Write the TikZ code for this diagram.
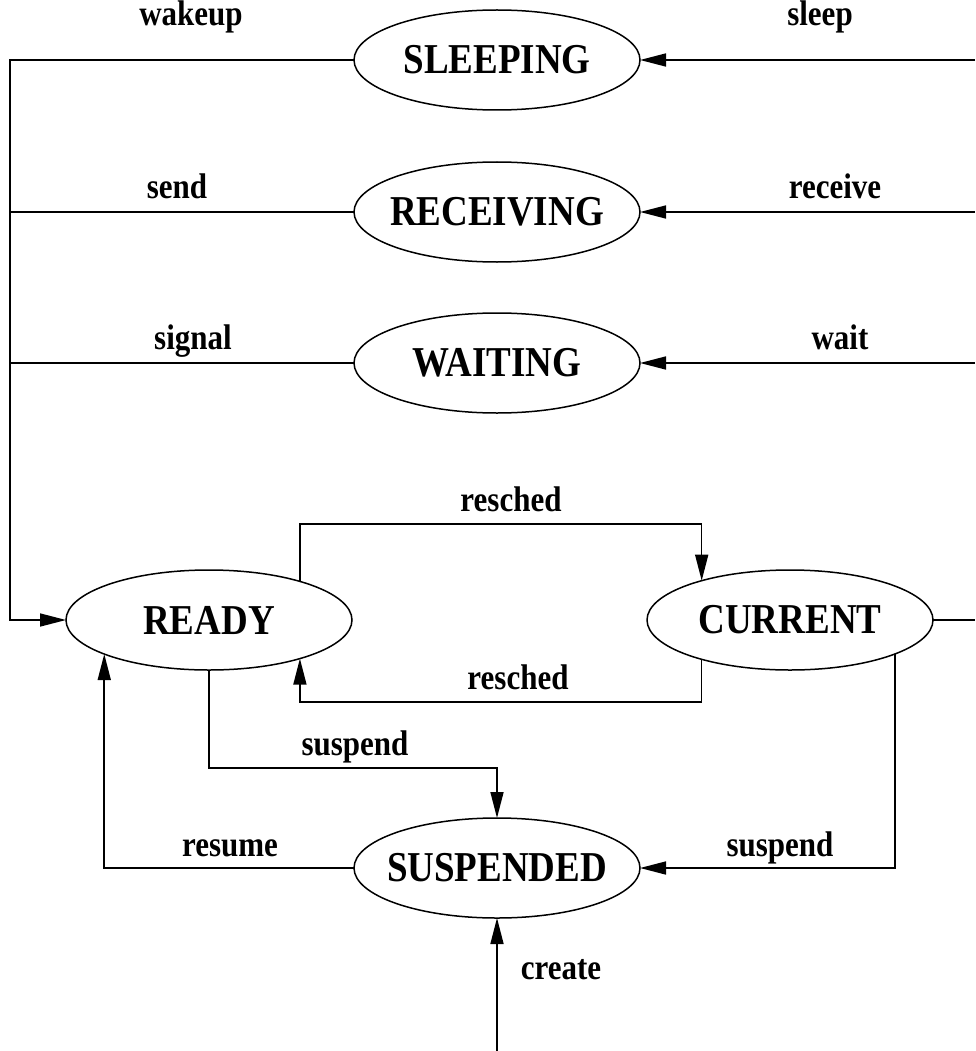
\documentclass[tikz,border=0pt]{standalone}
\usepackage{fontspec}
\setmainfont{Liberation Serif}
\usepackage{graphicx}
\usetikzlibrary{shapes.geometric,arrows.meta}
\newcommand\statefont{\fontsize{37}{40}\selectfont\bfseries}
\newcommand\lblfont{\fontsize{31}{34}\selectfont\bfseries}
\newcommand\tall[1]{\scalebox{1}[1.15]{#1}}
\newcommand\st[1]{\makebox[0pt]{\scalebox{1}[1.15]{#1}}}
\tikzset{
  state/.style={ellipse, draw, line width=1.5pt, minimum width=286pt, minimum height=100pt, inner sep=0pt, outer sep=0pt, font=\statefont},
  lbl/.style={font=\lblfont, anchor=base, inner sep=0pt},
  conn/.style={line width=1.6pt},
  arr/.style={line width=1.6pt, -{Triangle[length=26pt,width=13pt]}}
}
\begin{document}
\begin{tikzpicture}[x=1pt,y=-1pt]
\useasboundingbox (0,0) rectangle (975,1051);
% states
\node[state] (sleeping) at (497,60) {\st{SLEEPING}};
\node[state] (receiving) at (497,212) {\st{RECEIVING}};
\node[state] (waiting) at (497,363) {\st{WAITING}};
\node[state] (ready) at (209,620) {\st{READY}};
\node[state] (current) at (790,620) {\st{CURRENT}};
\node[state] (suspended) at (497,868) {\st{SUSPENDED}};
% helper coordinates
\coordinate (lt) at (10,60);
\coordinate (lb) at (10,620);
\coordinate (r1) at (975,60);
\coordinate (r2) at (975,212);
\coordinate (r3) at (975,363);
\coordinate (r4) at (975,620);
\coordinate (rtop) at (500,524);
\coordinate (rbot) at (500,702);
\coordinate (sbus) at (350,768);
\coordinate (cr) at (497,1051);
% left bus to READY
\draw[arr] (sleeping.west) -- (lt) -- (lb) -- (ready.west);
\draw[conn] (receiving.west) -- (receiving.west -| lt);
\draw[conn] (waiting.west) -- (waiting.west -| lt);
% right side into blocked states
\draw[arr] (r1) -- (sleeping.east);
\draw[arr] (r2) -- (receiving.east);
\draw[arr] (r3) -- (waiting.east);
\draw[conn] (current.east) -- (r4);
% resched
\draw[arr] (ready.23.38) |- (rtop) -| (current.156.62);
\draw[arr] (current.204.12) |- (rbot) -| (ready.337.4);
% suspend / resume / create
\draw[arr] (ready.south) |- (sbus) -| (suspended.north);
\draw[arr] (current.342.4) |- (suspended.east);
\draw[arr] (suspended.west) -| (ready.198.26);
\draw[arr] (cr) -- (suspended.south);
% labels
\node[lbl] (l1) at (191,26) {\tall{wakeup}};
\node[lbl] (l2) at (820,26) {\tall{sleep}};
\node[lbl] (l3) at (177,198) {\tall{send}};
\node[lbl] (l4) at (835,198) {\tall{receive}};
\node[lbl] (l5) at (193,349) {\tall{signal}};
\node[lbl] (l6) at (840,349) {\tall{wait}};
\node[lbl] (l7) at (511,511) {\tall{resched}};
\node[lbl] (l8) at (518,689) {\tall{resched}};
\node[lbl] (l9) at (355,755) {\tall{suspend}};
\node[lbl] (l10) at (230,856) {\tall{resume}};
\node[lbl] (l11) at (780,856) {\tall{suspend}};
\node[lbl] (l12) at (561,979) {\tall{create}};
\end{tikzpicture}
\end{document}
